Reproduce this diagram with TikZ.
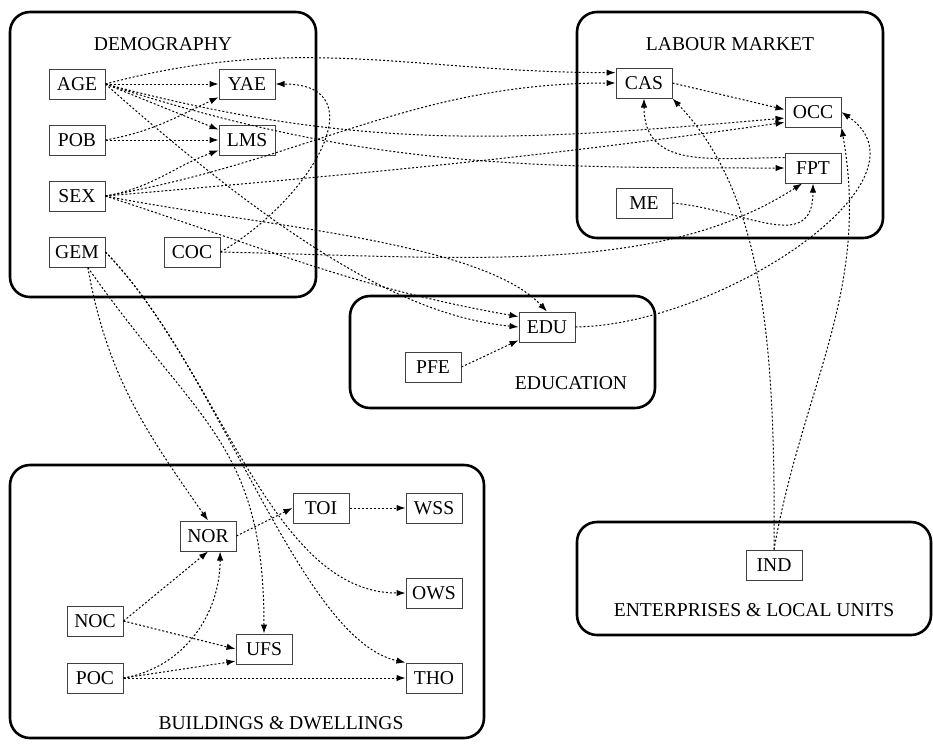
\documentclass[tikz,border=0pt]{standalone}
\usepackage{fontspec}
\setmainfont{Liberation Serif}
\usetikzlibrary{arrows.meta,calc}

\begin{document}
\begin{tikzpicture}[x=0.5pt,y=0.5pt,font=\fontsize{9.8}{12}\selectfont,
  var/.style={draw=black!75,line width=0.5pt,minimum width=28pt,minimum height=15pt,inner sep=1pt},
  group/.style={draw,line width=1.3pt,rounded corners=10pt},
  dep/.style={line width=0.5pt,dash pattern=on 1pt off 1pt,-{Latex[length=4.5pt,width=3.2pt]}}]
\useasboundingbox (0,0) rectangle (933,-746);
% groups
\draw[group] (10,-12) rectangle (316,-297);
\draw[group] (577,-12) rectangle (883,-238);
\draw[group] (350,-296) rectangle (655,-408);
\draw[group] (10,-465) rectangle (484,-738);
\draw[group] (577,-522) rectangle (931,-635);
\node at (163,-44) (demo) {DEMOGRAPHY};
\node at (730,-44) (lab) {LABOUR MARKET};
\node at (571,-383) (educ) {EDUCATION};
\node at (281,-723) (bld) {BUILDINGS \& DWELLINGS};
\node at (754,-610) (ent) {ENTERPRISES \& LOCAL UNITS};
% variables
\node[var] at (77,-84) (age) {AGE};
\node[var] at ($(age)+(0,-56)$) (pob) {POB};
\node[var] at ($(age)+(0,-112)$) (sex) {SEX};
\node[var] at ($(age)+(0,-168)$) (gem) {GEM};
\node[var] at ($(age)+(170,0)$) (yae) {YAE};
\node[var] at ($(pob)+(170,0)$) (lms) {LMS};
\node[var] at ($(gem)+(115,0)$) (coc) {COC};
\node[var] at (644,-83) (cas) {CAS};
\node[var] at (813,-112) (occ) {OCC};
\node[var] at ($(occ)+(0,-56)$) (fpt) {FPT};
\node[var] at ($(cas)+(0,-120)$) (me) {ME};
\node[var] at (547,-327) (edu) {EDU};
\node[var] at (433,-367) (pfe) {PFE};
\node[var] at (208,-536) (nor) {NOR};
\node[var] at (321,-508) (toi) {TOI};
\node[var] at ($(toi)+(113,0)$) (wss) {WSS};
\node[var] at ($(wss)+(0,-85)$) (ows) {OWS};
\node[var] at ($(ows)+(0,-85)$) (tho) {THO};
\node[var] at (95,-621) (noc) {NOC};
\node[var] at ($(noc)+(0,-57)$) (poc) {POC};
\node[var] at (264,-649) (ufs) {UFS};
\node[var] at (774,-565) (ind) {IND};
% demography
\draw[dep] (age.east) -- (yae.west);
\draw[dep] (age.east) -- (lms.160);
\draw[dep] (pob.east) to[out=10,in=205] (yae.205);
\draw[dep] (pob.east) -- (lms.west);
\draw[dep] (sex.east) to[out=10,in=200] (lms.200);
\draw[dep] (coc.east) to[out=30,in=0,looseness=1.5] (yae.east);
% to labour market
\draw[dep] (age.east) to[out=15,in=180] (cas.160);
\draw[dep] (sex.east) to[out=10,in=180] (cas.west);
\draw[dep] (age.east) to[out=-15,in=185] (occ.192);
\draw[dep] (sex.east) to[out=5,in=188] (occ.200);
\draw[dep] (age.east) to[out=-18,in=180] (fpt.west);
\draw[dep] (coc.east) .. controls (480,-258) and (660,-275) .. (fpt.235);
% to education
\draw[dep] (sex.east) .. controls (250,-225) and (480,-240) .. (edu.north);
\draw[dep] (sex.east) to[out=-18,in=170] (edu.160);
\draw[dep] (age.east) .. controls (320,-275) and (430,-318) .. (edu.west);
\draw[dep] (pfe.east) -- (edu.205);
\draw[dep] (edu.east) .. controls (720,-325) and (940,-180) .. (occ.east);
% labour market
\draw[dep] (cas.east) -- (occ.175);
\draw[dep] (fpt.160) to[out=180,in=-90,looseness=1.2] (cas.south);
\draw[dep] (me.east) to[out=-5,in=-90,looseness=1.3] (fpt.south);
\draw[dep] (ind.north) .. controls (776,-330) and (760,-190) .. (cas.south east);
\draw[dep] (ind.north) to[out=80,in=-80] (occ.south east);
% buildings
\draw[dep] (gem.-55) to[out=-80,in=125] (nor.north);
\draw[dep] (gem.-55) to[out=-55,in=90,looseness=1.2] (ufs.north);
\draw[dep] (gem.east) .. controls (220,-370) and (270,-593) .. (ows.west);
\draw[dep] (gem.east) .. controls (220,-370) and (300,-640) .. (tho.north west);
\draw[dep] (noc.east) -- (nor.south);
\draw[dep] (noc.east) -- (ufs.west);
\draw[dep] (poc.east) to[out=10,in=-90] (nor.-52);
\draw[dep] (poc.east) -- (ufs.203);
\draw[dep] (poc.east) -- (tho.west);
\draw[dep] (nor.east) -- (toi.west);
\draw[dep] (toi.east) -- (wss.west);
\end{tikzpicture}
\end{document}
